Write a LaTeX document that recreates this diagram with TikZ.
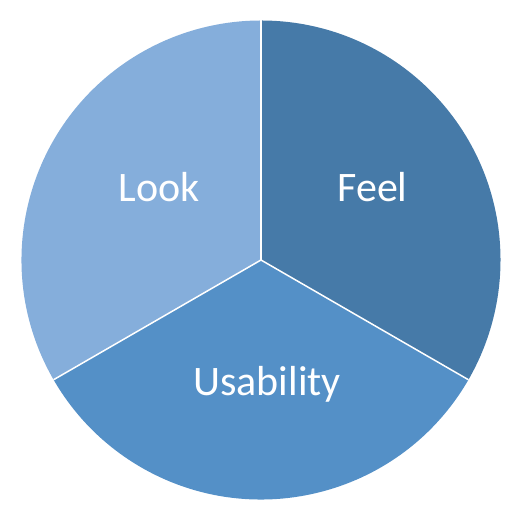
\documentclass[tikz,border=0pt]{standalone}
\usepackage{fontspec}
\setmainfont{Carlito}
\usetikzlibrary{calc}

\definecolor{lookblue}{RGB}{133,174,219}
\definecolor{feelblue}{RGB}{70,122,168}
\definecolor{usablue}{RGB}{84,144,199}

\begin{document}
\begin{tikzpicture}[x=1pt, y=1pt,
    slice/.style={draw=white, line width=1.5pt, line join=round},
    slicelabel/.style={text=white, anchor=base, inner sep=0pt,
        font=\fontsize{42}{50}\selectfont}]

    % ---- Parameters ----
    \def\Cx{261}      % pie centre x
    \def\Cy{266}      % pie centre y
    \def\rPie{239.5}  % pie radius

    \useasboundingbox (0,0) rectangle (526,526);
    \coordinate (centre) at (\Cx,\Cy);

    % ---- Feel (upper right) ----
    \fill[feelblue] (centre) -- ++(90:\rPie) arc (90:-30:\rPie) -- cycle;

    % ---- Usability (bottom) ----
    \fill[usablue] (centre) -- ++(-30:\rPie) arc (-30:-150:\rPie) -- cycle;

    % ---- Look (upper left) ----
    \fill[lookblue] (centre) -- ++(210:\rPie) arc (210:90:\rPie) -- cycle;

    % ---- White separators ----
    \foreach \ang in {90,-30,210}
        \draw[slice] (centre) -- ++(\ang:\rPie);

    % ---- Labels ----
    \node[slicelabel] (look) at (159,324) {Look};
    \node[slicelabel] (feel) at (372.5,324) {Feel};
    \node[slicelabel] (usability) at (267,130) {Usability};

\end{tikzpicture}
\end{document}
